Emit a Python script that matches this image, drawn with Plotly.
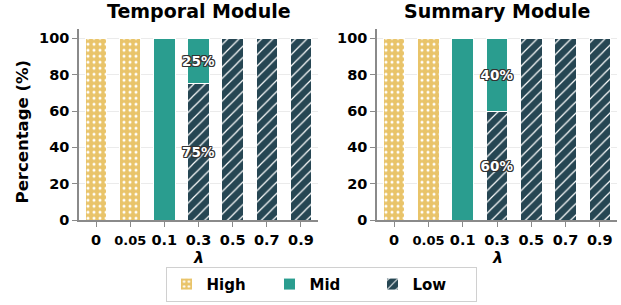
import plotly.graph_objects as go

lambdas = ["0", "0.05", "0.1", "0.3", "0.5", "0.7", "0.9"]
titles = ["Temporal Module", "Summary Module"]
temporal_high = [100, 100, 0, 0, 0, 0, 0]
temporal_mid = [0, 0, 100, 25, 0, 0, 0]
temporal_low = [0, 0, 0, 75, 100, 100, 100]
summary_high = [100, 100, 0, 0, 0, 0, 0]
summary_mid = [0, 0, 100, 40, 0, 0, 0]
summary_low = [0, 0, 0, 60, 100, 100, 100]
yticks = [0, 20, 40, 60, 80, 100]

C_HIGH = "#E9C46A"
C_MID = "#2A9D8F"
C_LOW = "#264653"
FONT = "DejaVu Sans"
W, H = 621, 305

xpos = list(range(len(lambdas)))
ticktext = [f"<span style='font-size:13px'>{l}</span>" if l == "0.05" else l for l in lambdas]


def label_text(vals, hi, mid, lo):
    # show percentage labels only for mixed bars
    out = []
    for v, a, b, c in zip(vals, hi, mid, lo):
        mixed = sum(1 for t in (a, b, c) if t > 0) > 1
        out.append(f"{v}%" if mixed and v > 0 else "")
    return out


fig = go.Figure()
shadow = ("-1px -1px 0 #333, 1px -1px 0 #333, -1px 1px 0 #333, 1px 1px 0 #333, "
          "0 1px 0 #333, 0 -1px 0 #333, 1px 0 0 #333, -1px 0 0 #333")

datasets = [(temporal_high, temporal_mid, temporal_low), (summary_high, summary_mid, summary_low)]
for i, (hi, mid, lo) in enumerate(datasets):
    xa = "x" if i == 0 else "x2"
    ya = "y" if i == 0 else "y2"
    show = i == 0
    for name, vals, color, shape, size, sol in [
        ("Low", lo, C_LOW, "/", 8, 0.15),
        ("Mid", mid, C_MID, "", 8, 0.3),
        ("High", hi, C_HIGH, ".", 6, 0.2),
    ]:
        fig.add_trace(go.Bar(
            x=xpos, y=vals, name=name, xaxis=xa, yaxis=ya, showlegend=show,
            legendgroup=name, width=0.63,
            marker=dict(color=color, line=dict(color="white", width=1),
                        pattern=dict(shape=shape, fgcolor="white", bgcolor=color,
                                     fillmode="replace", size=size, solidity=sol)),
            text=label_text(vals, hi, mid, lo), textposition="inside",
            insidetextanchor="middle", textangle=0, constraintext="none",
            textfont=dict(family=FONT, size=13.5, color="white", weight="bold", shadow=shadow),
            hoverinfo="skip",
        ))

doms = [(79 / W, 318 / W), (377 / W, 617 / W)]
ydom = [(H - 226) / H, (H - 30) / H]
axis_common = dict(showline=True, linecolor="#8a8a8a", linewidth=1.5, ticks="outside", ticklen=5,
                   tickcolor="#8a8a8a", tickwidth=1.2,
                   tickfont=dict(family=FONT, size=14.5, color="black", weight="bold"))

layout = dict(
    width=W, height=H, barmode="stack", plot_bgcolor="white", paper_bgcolor="white",
    margin=dict(l=0, r=0, t=0, b=0),
    font=dict(family=FONT, color="black"),
    legend=dict(orientation="h", traceorder="reversed", x=321 / W, xanchor="center",
                y=(H - 274) / H, yanchor="top", bordercolor="#d0d0d0", borderwidth=1,
                font=dict(family=FONT, size=15, color="black", weight="bold"),
                entrywidth=58, tracegroupgap=0),
)
for i in range(2):
    sx = "" if i == 0 else "2"
    layout["xaxis" + sx] = dict(domain=doms[i], range=[-0.5, 6.5], tickvals=xpos, ticktext=ticktext,
                                showgrid=False, zeroline=False, anchor="y" + sx,
                                ticklabelstandoff=1, **axis_common)
    layout["yaxis" + sx] = dict(domain=ydom, range=[0, 105], tickvals=yticks, showgrid=True,
                                gridcolor="#ebebeb", gridwidth=1, zeroline=False, anchor="x" + sx,
                                **axis_common)
fig.update_layout(**layout)

for i in range(2):
    cx = (doms[i][0] + doms[i][1]) / 2
    fig.add_annotation(text=f"<b>{titles[i]}</b>", x=cx, y=1 - 11 / H, xref="paper", yref="paper",
                       showarrow=False, font=dict(family=FONT, size=19, color="black"),
                       xanchor="center", yanchor="middle")
    fig.add_annotation(text="<b><i>λ</i></b>", x=cx, y=1 - 264.5 / H, xref="paper", yref="paper",
                       showarrow=False, font=dict(family=FONT, size=16, color="black"),
                       xanchor="center", yanchor="middle")
fig.add_annotation(text="<b>Percentage (%)</b>", x=22 / W, y=1 - 135 / H, xref="paper", yref="paper",
                   showarrow=False, textangle=-90, font=dict(family=FONT, size=16.5, color="black"),
                   xanchor="center", yanchor="middle")

fig.write_html("out.html", config={"displayModeBar": False},
               post_script="document.body.style.margin='0';document.body.style.overflow='hidden';")
